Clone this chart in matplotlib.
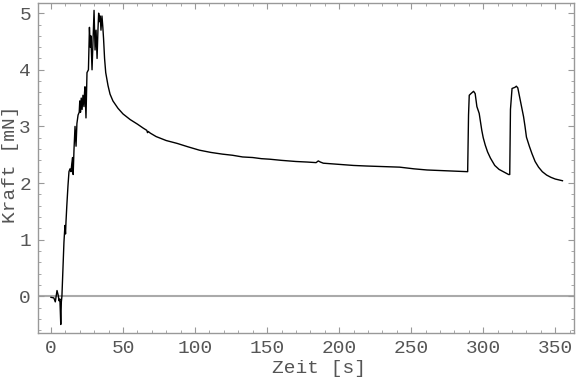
import matplotlib
matplotlib.use('Agg')
import matplotlib.pyplot as plt
from matplotlib.ticker import MultipleLocator

# Kraftverlauf
zeit = [0.0, 2.0, 3.0, 3.5, 4.2, 5.0, 5.6, 6.2, 6.8, 7.2, 7.6, 8.3, 9.0, 9.7,
        10.1, 10.4, 11.0, 11.8, 12.5, 13.2, 13.9, 14.5, 15.0, 15.4, 16.0, 16.7,
        17.4, 18.0, 18.8, 19.6, 20.0, 20.5, 21.0, 21.6, 22.2, 22.9, 23.3, 23.6,
        24.3, 25.0, 26.0, 26.7, 27.3, 27.7, 28.5, 29.2, 29.9, 30.6, 31.3, 32.0,
        32.6, 33.1, 33.7, 34.2, 34.7, 35.4, 36.0, 36.5, 37.2, 38.0, 39.6, 41.0,
        43.0, 46.5, 50.0, 55.0, 60.0, 64.0, 66.5, 67.0, 67.5, 69.0, 73.0, 80.0,
        87.5, 95.0, 103.0, 111.0, 119.0, 126.0, 133.0, 140.0, 146.0, 152.0,
        160.0, 170.0, 178.0, 184.0, 185.5, 187.0, 189.0, 200.0, 210.0, 219.0,
        230.0, 242.0, 252.0, 261.0, 270.0, 280.0, 287.5, 289.2, 289.8, 290.3,
        291.5, 293.3, 294.4, 295.6, 297.2, 298.0, 299.0, 300.0, 301.4, 303.0,
        305.0, 308.0, 311.0, 314.0, 317.6, 318.4, 318.9, 320.0, 322.0, 323.0,
        324.0, 325.7, 327.0, 328.0, 329.0, 330.0, 332.0, 333.8, 336.0, 338.4,
        341.0, 344.0, 347.0, 350.0, 355.0]
kraft = [-0.02, -0.03, -0.1, -0.02, 0.1, 0.02, -0.08, -0.05, -0.5, -0.1, 0.0,
         0.5, 0.95, 1.25, 1.1, 1.3, 1.6, 1.95, 2.2, 2.25, 2.2, 2.35, 2.45, 2.15,
         2.6, 3.0, 2.65, 3.05, 3.2, 3.25, 3.45, 3.25, 3.5, 3.3, 3.55, 3.35, 3.6,
         3.7, 3.15, 3.95, 4.0, 4.75, 4.4, 4.6, 4.0, 4.5, 5.05, 4.35, 4.7, 4.2,
         4.7, 5.0, 4.85, 4.95, 4.7, 4.95, 4.75, 4.55, 4.2, 3.95, 3.72, 3.57,
         3.45, 3.32, 3.22, 3.12, 3.04, 2.97, 2.93, 2.89, 2.91, 2.88, 2.82, 2.75,
         2.7, 2.64, 2.58, 2.54, 2.51, 2.49, 2.46, 2.45, 2.43, 2.42, 2.4, 2.38,
         2.37, 2.36, 2.39, 2.37, 2.35, 2.33, 2.31, 2.3, 2.29, 2.28, 2.25, 2.23,
         2.22, 2.21, 2.2, 2.2, 3.2, 3.55, 3.58, 3.62, 3.58, 3.35, 3.23, 3.1,
         2.93, 2.8, 2.67, 2.55, 2.44, 2.31, 2.24, 2.2, 2.15, 2.15, 3.3, 3.67,
         3.69, 3.71, 3.68, 3.46, 3.3, 3.17, 3.0, 2.81, 2.65, 2.52, 2.38, 2.28,
         2.2, 2.14, 2.1, 2.07, 2.04]

grau = '#555555'
rahmen = '#999999'

plt.rcParams['font.family'] = ['Liberation Mono', 'DejaVu Sans Mono']
plt.rcParams['font.size'] = 14

fig = plt.figure(figsize=(5.76, 3.78), dpi=100)
ax = fig.add_axes([38 / 576, 1 - 333 / 378, 536 / 576, 330 / 378])

ax.axhline(0, color='#aaaaaa', lw=1.5, zorder=1)
ax.plot(zeit, kraft, color='black', lw=1.0, zorder=2)

ax.set_xlim(-9, 363)
ax.set_ylim(-0.65, 5.18)
ax.xaxis.set_major_locator(MultipleLocator(50))
ax.xaxis.set_minor_locator(MultipleLocator(10))
ax.yaxis.set_major_locator(MultipleLocator(1))
ax.yaxis.set_minor_locator(MultipleLocator(0.2))

for s in ax.spines.values():
    s.set_color(rahmen)
    s.set_linewidth(1.0)
ax.tick_params(which='both', direction='in', top=True, right=True,
               color=rahmen, labelcolor=grau, labelsize=14, pad=5)
ax.tick_params(which='major', length=4.5, width=0.8)
ax.tick_params(which='minor', length=2.5, width=0.6)

ax.set_xlabel('Zeit [s]', color=grau, fontsize=14, va='top')
ax.xaxis.set_label_coords(0.524, -0.083)
ax.set_ylabel('Kraft [mN]', color=grau, fontsize=14, va='center')
ax.yaxis.set_label_coords(-0.052, 0.51)

fig.savefig('out.png', dpi=100)
